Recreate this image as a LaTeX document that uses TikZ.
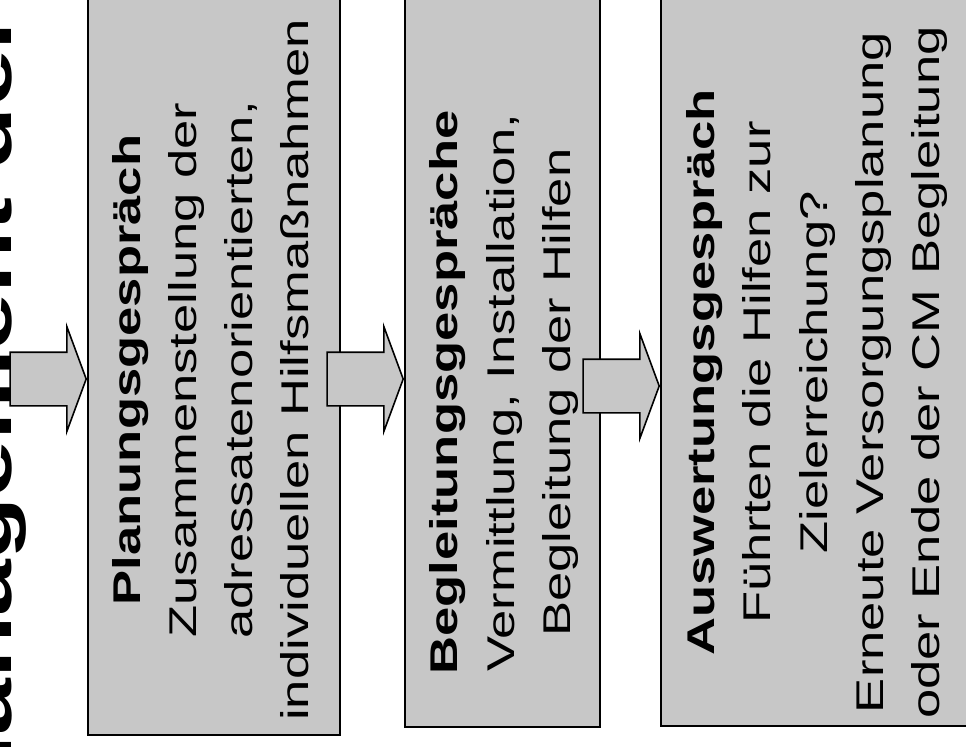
\documentclass[tikz,border=0pt]{standalone}
\usepackage{fontspec}
\setmainfont{Liberation Sans}
\usetikzlibrary{positioning,shapes.arrows}

\begin{document}
\begin{tikzpicture}[
  box/.style={draw,fill=black!22,line width=1.1pt,inner sep=0pt},
  txt/.style={rotate=90,xscale=1.36,align=center,inner sep=0pt,font=\fontsize{22}{31.9}\selectfont},
  pfeil/.style={single arrow,draw,fill=black!22,line width=0.9pt,inner sep=0pt,
    single arrow head extend=0.51cm,single arrow tip angle=139.5,minimum height=1.52cm}]
  \useasboundingbox (0,0) rectangle (19.32,-14.92);
  \clip (0,0) rectangle (19.32,-14.92);

  % title, cut off at the page edge
  \node[rotate=90,xscale=1.45,anchor=base east,inner sep=0pt,font=\fontsize{40}{48}\selectfont\bfseries] (titel) at (0.24,-0.2) {Management der};

  % the three phases
  \node (plan) [box, minimum width=5.04cm, minimum height=15.7cm] at (4.28,-6.85) {};
  \node (begl) [box, minimum width=3.9cm, minimum height=15.54cm] at (10.05,-6.77) {};
  \node (ausw) [box, minimum width=6.68cm, minimum height=15.52cm] at (16.56,-6.76) {};

  \node (plantext) [txt] at (4.22,-7.4) {\textbf{Planungsgespräch}\\Zusammenstellung der\\adressatenorientierten,\\individuellen Hilfsmaßnahmen};
  \node (begltext) [txt] at (10.08,-7.85) {\textbf{Begleitungsgespräche}\\Vermittlung, Installation,\\Begleitung der Hilfen};
  \node (auswtext) [txt] at (16.34,-7.45) {\textbf{Auswertungsgespräch}\\Führten die Hilfen zur\\Zielerreichung?\\Erneute Versorgungsplanung\\oder Ende der CM Begleitung};

  % block arrows between the phases
  \node (pfeil1) [pfeil, anchor=tip] at (plan.west |- 0,-7.58) {\rule{0pt}{1.04cm}};
  \node (pfeil2) [pfeil, anchor=tip] at (begl.west |- 0,-7.58) {\rule{0pt}{1.04cm}};
  \node (pfeil3) [pfeil, anchor=tip] at (ausw.west |- 0,-7.72) {\rule{0pt}{1.04cm}};
\end{tikzpicture}
\end{document}
